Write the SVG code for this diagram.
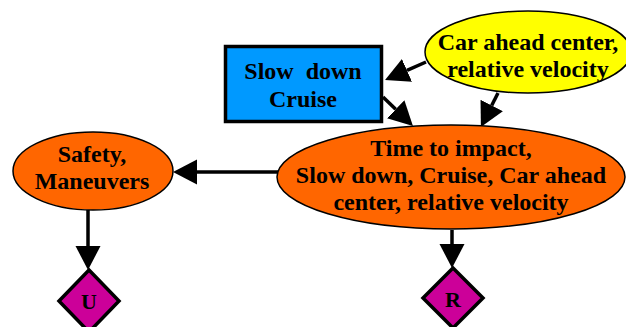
<svg xmlns="http://www.w3.org/2000/svg" width="626" height="327" viewBox="0 0 626 327">
<style>
text{font-family:"Liberation Serif","Times New Roman",serif;font-weight:bold;font-size:24px;text-anchor:middle;fill:#000}
.ell{stroke:#000;stroke-width:1.5}
.orange{fill:#FF6600}
.edge{stroke:#000;stroke-width:3.5;fill:none}
.dia{fill:#CC0099;stroke:#000;stroke-width:3.5}
</style>
<defs>
<marker id="ah" markerUnits="userSpaceOnUse" markerWidth="26" markerHeight="28" refX="0" refY="13" orient="auto" viewBox="0 0 26 28">
<path d="M0,0.5 L24,13 L0,25.5 z" fill="#000"/>
</marker>
</defs>
<rect width="626" height="327" fill="#fff"/>
<g id="connectors">
<line class="edge" x1="426" y1="62" x2="407" y2="70.4" marker-end="url(#ah)"/>
<line class="edge" x1="383" y1="97" x2="395.7" y2="109.3" marker-end="url(#ah)"/>
<line class="edge" x1="498" y1="93" x2="491.7" y2="105.5" marker-end="url(#ah)"/>
<line class="edge" x1="278" y1="172" x2="197" y2="172" marker-end="url(#ah)"/>
<line class="edge" x1="88" y1="210" x2="88" y2="246" marker-end="url(#ah)"/>
<line class="edge" x1="452" y1="230" x2="452" y2="244" marker-end="url(#ah)"/>
</g>
<g id="car-ahead">
<ellipse class="ell" cx="528" cy="52" rx="103" ry="41" fill="#FFFF00"/>
<text x="528" y="50">Car ahead center,</text>
<text x="528" y="77">relative velocity</text>
</g>
<g id="slow-down">
<rect x="225.5" y="46.5" width="156" height="75" fill="#0099FF" stroke="#000" stroke-width="3.5"/>
<text x="303" y="79" xml:space="preserve">Slow  down</text>
<text x="303" y="107">Cruise</text>
</g>
<g id="time-to-impact">
<ellipse class="ell orange" cx="451" cy="177" rx="174" ry="52"/>
<text x="451" y="156">Time to impact,</text>
<text x="451" y="183">Slow down, Cruise, Car ahead</text>
<text x="451" y="210">center, relative velocity</text>
</g>
<g id="safety">
<ellipse class="ell orange" cx="93" cy="171" rx="80" ry="39"/>
<text x="92" y="162">Safety,</text>
<text x="92" y="189">Maneuvers</text>
</g>
<g id="U">
<polygon class="dia" points="89,270 119,301 89,332 59,301"/>
<text x="89" y="309" style="font-size:22px">U</text>
</g>
<g id="R">
<polygon class="dia" points="453,268 483,298 453,328 423,298"/>
<text x="453" y="307" style="font-size:22px">R</text>
</g>
</svg>
